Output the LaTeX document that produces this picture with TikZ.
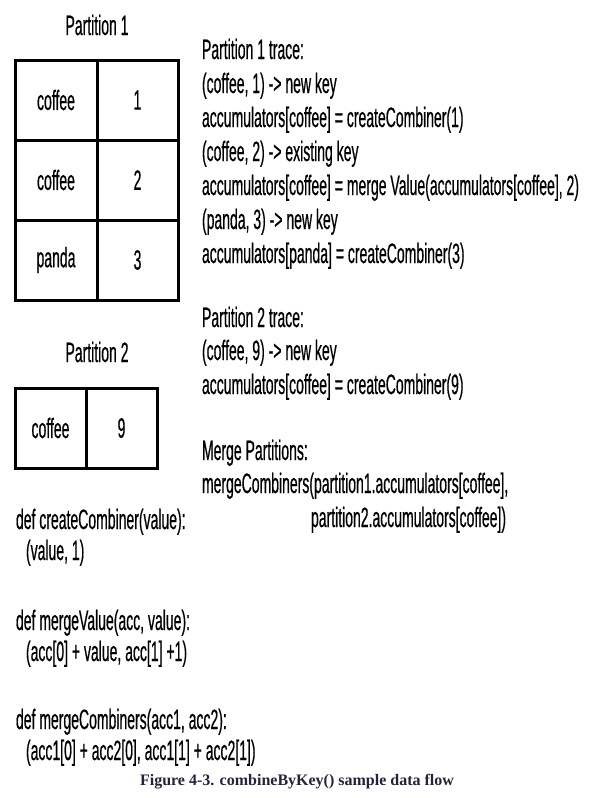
\documentclass[tikz,border=0pt]{standalone}
\usepackage{fontspec}
\setmainfont{Liberation Sans}[FakeStretch=0.5, FakeBold=0.5]
\newfontfamily\capfont{Liberation Serif}
\definecolor{capcol}{RGB}{35,35,60}
\begin{document}
\begin{tikzpicture}[x=1pt,y=-1pt,
  every node/.style={inner sep=0pt, outer sep=0pt},
  txt/.style={anchor=base west, font=\fontsize{28}{28}\selectfont},
  title/.style={anchor=base, font=\fontsize{28}{28}\selectfont},
  cell/.style={draw, line width=3pt, minimum height=80pt, font=\fontsize{28}{28}\selectfont},
  keycell/.style={cell, minimum width=82pt},
  valcell/.style={cell, minimum width=81pt},
  keycellb/.style={cell, minimum width=71pt},
  valcellb/.style={cell, minimum width=71pt},
  caption/.style={anchor=base, text=capcol, font=\capfont\bfseries\fontsize{16}{16}\selectfont}]
\useasboundingbox (0,0) rectangle (589,798);

% Partition 1 table
\node[title] (p1) at (97,35) {Partition 1};
\node[keycell] (k1) at (56,100) {coffee};
\node[valcell] (v1) at (137.5,100) {1};
\node[keycell] (k2) at (56,180) {coffee};
\node[valcell] (v2) at (137.5,180) {2};
\node[keycell] (k3) at (56,260) {panda};
\node[valcell] (v3) at (137.5,260) {3};

% Partition 2 table
\node[title] (p2) at (97,362) {Partition 2};
\node[keycellb] (k4) at (50.5,428) {coffee};
\node[valcellb] (v4) at (121.5,428) {9};

% Partition 1 trace
\node[txt] (t1) at (202,59) {Partition 1 trace:};
\node[txt] (t2) at (202,93) {(coffee, 1) -> new key};
\node[txt] (t3) at (202,127) {accumulators[coffee] = createCombiner(1)};
\node[txt] (t4) at (202,161) {(coffee, 2) -> existing key};
\node[txt] (t5) at (202,195) {accumulators[coffee] = merge Value(accumulators[coffee], 2)};
\node[txt] (t6) at (202,229) {(panda, 3) -> new key};
\node[txt] (t7) at (202,263) {accumulators[panda] = createCombiner(3)};

% Partition 2 trace
\node[txt] (u1) at (202,327) {Partition 2 trace:};
\node[txt] (u2) at (202,360) {(coffee, 9) -> new key};
\node[txt] (u3) at (202,394) {accumulators[coffee] = createCombiner(9)};

% Merge step
\node[txt] (m1) at (202,460) {Merge Partitions:};
\node[txt] (m2) at (202,493) {mergeCombiners(partition1.accumulators[coffee],};
\node[txt] (m3) at (311,527) {partition2.accumulators[coffee])};

% Function definitions
\node[txt] (d1) at (16,529) {def createCombiner(value):};
\node[txt] (d2) at (26,560) {(value, 1)};
\node[txt] (d3) at (16,630) {def mergeValue(acc, value):};
\node[txt] (d4) at (26,661) {(acc[0] + value, acc[1] +1)};
\node[txt] (d5) at (16,729) {def mergeCombiners(acc1, acc2):};
\node[txt] (d6) at (26,760) {(acc1[0] + acc2[0], acc1[1] + acc2[1])};

% Caption
\node[caption] (cap) at (297,785) {Figure 4-3. combineByKey() sample data flow};
\end{tikzpicture}
\end{document}
